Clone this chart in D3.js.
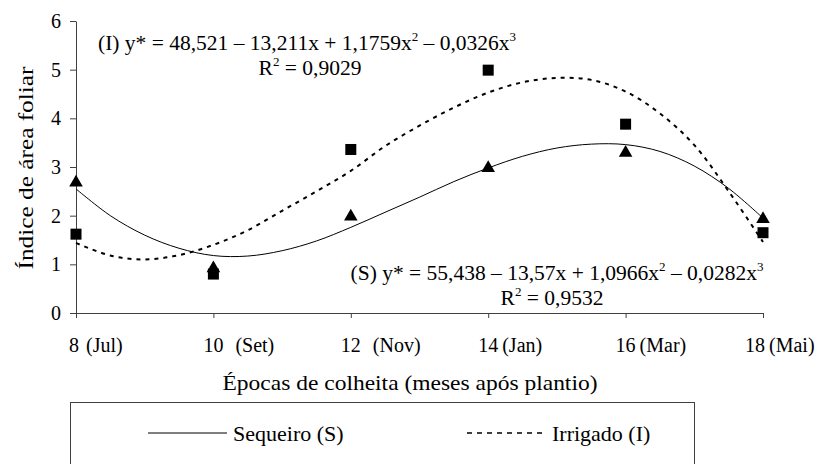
<!DOCTYPE html>
<html>
<head>
<meta charset="utf-8">
<script src="https://cdn.jsdelivr.net/npm/d3@7"></script>
<style>
  body { margin: 0; background: #fff; }
</style>
</head>
<body>
<div id="chart"></div>
<script>
// observed points
const epocas = [8, 10, 12, 14, 16, 18]
const meses = ["(Jul)", "(Set)", "(Nov)", "(Jan)", "(Mar)", "(Mai)"]
const sequeiro = [2.68, 0.92, 1.98, 2.98, 3.29, 1.93]
const irrigado = [1.62, 0.80, 3.36, 4.99, 3.88, 1.65]

// fitted curves
const curveX = [8, 8.5, 9, 9.5, 10, 10.5, 11, 11.5, 12, 12.5, 13, 13.5, 14, 14.5, 15, 15.5, 16, 16.5, 17, 17.5, 18]
const curveS = [2.55, 2.0, 1.6, 1.33, 1.18, 1.17, 1.28, 1.48, 1.76, 2.07, 2.38, 2.7, 2.98, 3.22, 3.39, 3.47, 3.46, 3.32, 3.02, 2.56, 1.95]
const curveI = [1.44, 1.18, 1.1, 1.19, 1.4, 1.7, 2.1, 2.5, 2.92, 3.43, 3.85, 4.22, 4.53, 4.74, 4.83, 4.79, 4.55, 4.1, 3.45, 2.5, 1.46]

const yTicks = [0, 1, 2, 3, 4, 5, 6]

const W = 832, H = 464
const FONT = "'Liberation Serif', 'Times New Roman', serif"
const svg = d3.select("#chart").append("svg")
    .attr("width", W).attr("height", H)

const x = d3.scaleLinear().domain([8, 18]).range([76, 763])
const y = d3.scaleLinear().domain([0, 6]).range([313, 21])

const axisColor = "#404040"

function label(px, py, size) {
    return svg.append("text").attr("x", px).attr("y", py)
        .attr("font-size", size).style("font-family", FONT).attr("fill", "#000")
}

// y axis
const yAxis = svg.append("g")
    .attr("transform", "translate(76 0)")
    .call(d3.axisLeft(y).tickValues(yTicks).tickFormat(d3.format("d")).tickSize(6).tickPadding(9).tickSizeOuter(0))
yAxis.select(".domain").attr("stroke", axisColor)
yAxis.selectAll("line").attr("stroke", axisColor)
yAxis.selectAll("text").attr("font-size", 20).style("font-family", FONT)

// x axis
const xAxis = svg.append("g")
    .attr("transform", "translate(0 313)")
    .call(d3.axisBottom(x).tickValues(epocas).tickSize(5).tickFormat("").tickSizeOuter(0))
xAxis.select(".domain").attr("stroke", axisColor)
xAxis.selectAll("line").attr("stroke", axisColor)

// tick labels: number centred on tick, month after it
const monthGap = [10, 22, 22, 14, 14, 6]
const numShift = [-2, 0, 0, 0, 0, -8]
epocas.forEach((e, i) => {
    label(x(e) + numShift[i], 352, 20).attr("text-anchor", "middle").text(e)
    label(x(e) + monthGap[i], 352, 20).text(meses[i])
})

// curves
const line = d3.line()
    .x(d => x(d[0]))
    .y(d => y(d[1]))
    .curve(d3.curveCatmullRom)

svg.append("path")
    .datum(curveX.map((v, i) => [v, curveI[i]]))
    .attr("d", line)
    .attr("fill", "none").attr("stroke", "#000")
    .attr("stroke-width", 2).attr("stroke-dasharray", "4 5")

svg.append("path")
    .datum(curveX.map((v, i) => [v, curveS[i]]))
    .attr("d", line)
    .attr("fill", "none").attr("stroke", "#000").attr("stroke-width", 1)

// markers
svg.selectAll(".sq")
    .data(epocas.map((e, i) => [e, irrigado[i]]))
    .enter().append("rect")
    .attr("x", d => x(d[0]) - 5.5)
    .attr("y", d => y(d[1]) - 5.5)
    .attr("width", 11).attr("height", 11)
    .attr("fill", "#000")

const tri = d3.symbol().type(d3.symbolTriangle).size(80)
svg.selectAll(".tri")
    .data(epocas.map((e, i) => [e, sequeiro[i]]))
    .enter().append("path")
    .attr("d", tri)
    .attr("transform", d => "translate(" + x(d[0]) + " " + y(d[1]) + ")")
    .attr("fill", "#000")

// equations
function equation(gx, gy, rx, lead, a, b, c, d, r2) {
    const t = label(gx, gy, 21.5).attr("text-anchor", "middle")
    t.append("tspan").text(lead + " y* = " + a + " \u2013 " + b + "x + " + c + "x")
    t.append("tspan").attr("dy", -9).attr("font-size", 13).text("2")
    t.append("tspan").attr("dy", 9).text(" \u2013 " + d + "x")
    t.append("tspan").attr("dy", -9).attr("font-size", 13).text("3")
    const r = label(rx, gy + 25, 21.5).attr("text-anchor", "middle")
    r.append("tspan").text("R")
    r.append("tspan").attr("dy", -9).attr("font-size", 13).text("2")
    r.append("tspan").attr("dy", 9).text(" = " + r2)
}
equation(307, 50, 310, "(I)", "48,521", "13,211", "1,1759", "0,0326", "0,9029")
equation(557, 280, 552, "(S)", "55,438", "13,57", "1,0966", "0,0282", "0,9532")

// axis titles
label(410, 390, 22)
    .attr("text-anchor", "middle")
    .attr("textLength", 375).attr("lengthAdjust", "spacingAndGlyphs")
    .text("Épocas de colheita (meses após plantio)")

svg.append("text")
    .attr("transform", "translate(33 168) rotate(-90)")
    .attr("text-anchor", "middle").attr("font-size", 21).style("font-family", FONT)
    .attr("textLength", 203).attr("lengthAdjust", "spacingAndGlyphs")
    .text("Índice de área foliar")

// legend
svg.append("rect")
    .attr("x", 70.5).attr("y", 402.5)
    .attr("width", 624).attr("height", 80)
    .attr("fill", "none").attr("stroke", axisColor)

svg.append("line")
    .attr("x1", 148).attr("x2", 227).attr("y1", 433).attr("y2", 433)
    .attr("stroke", "#000").attr("stroke-width", 1)
label(233, 441, 22).text("Sequeiro (S)")

svg.append("line")
    .attr("x1", 467).attr("x2", 543).attr("y1", 433).attr("y2", 433)
    .attr("stroke", "#000").attr("stroke-width", 1.5).attr("stroke-dasharray", "5 5")
label(552, 441, 22).text("Irrigado (I)")
</script>
</body>
</html>
